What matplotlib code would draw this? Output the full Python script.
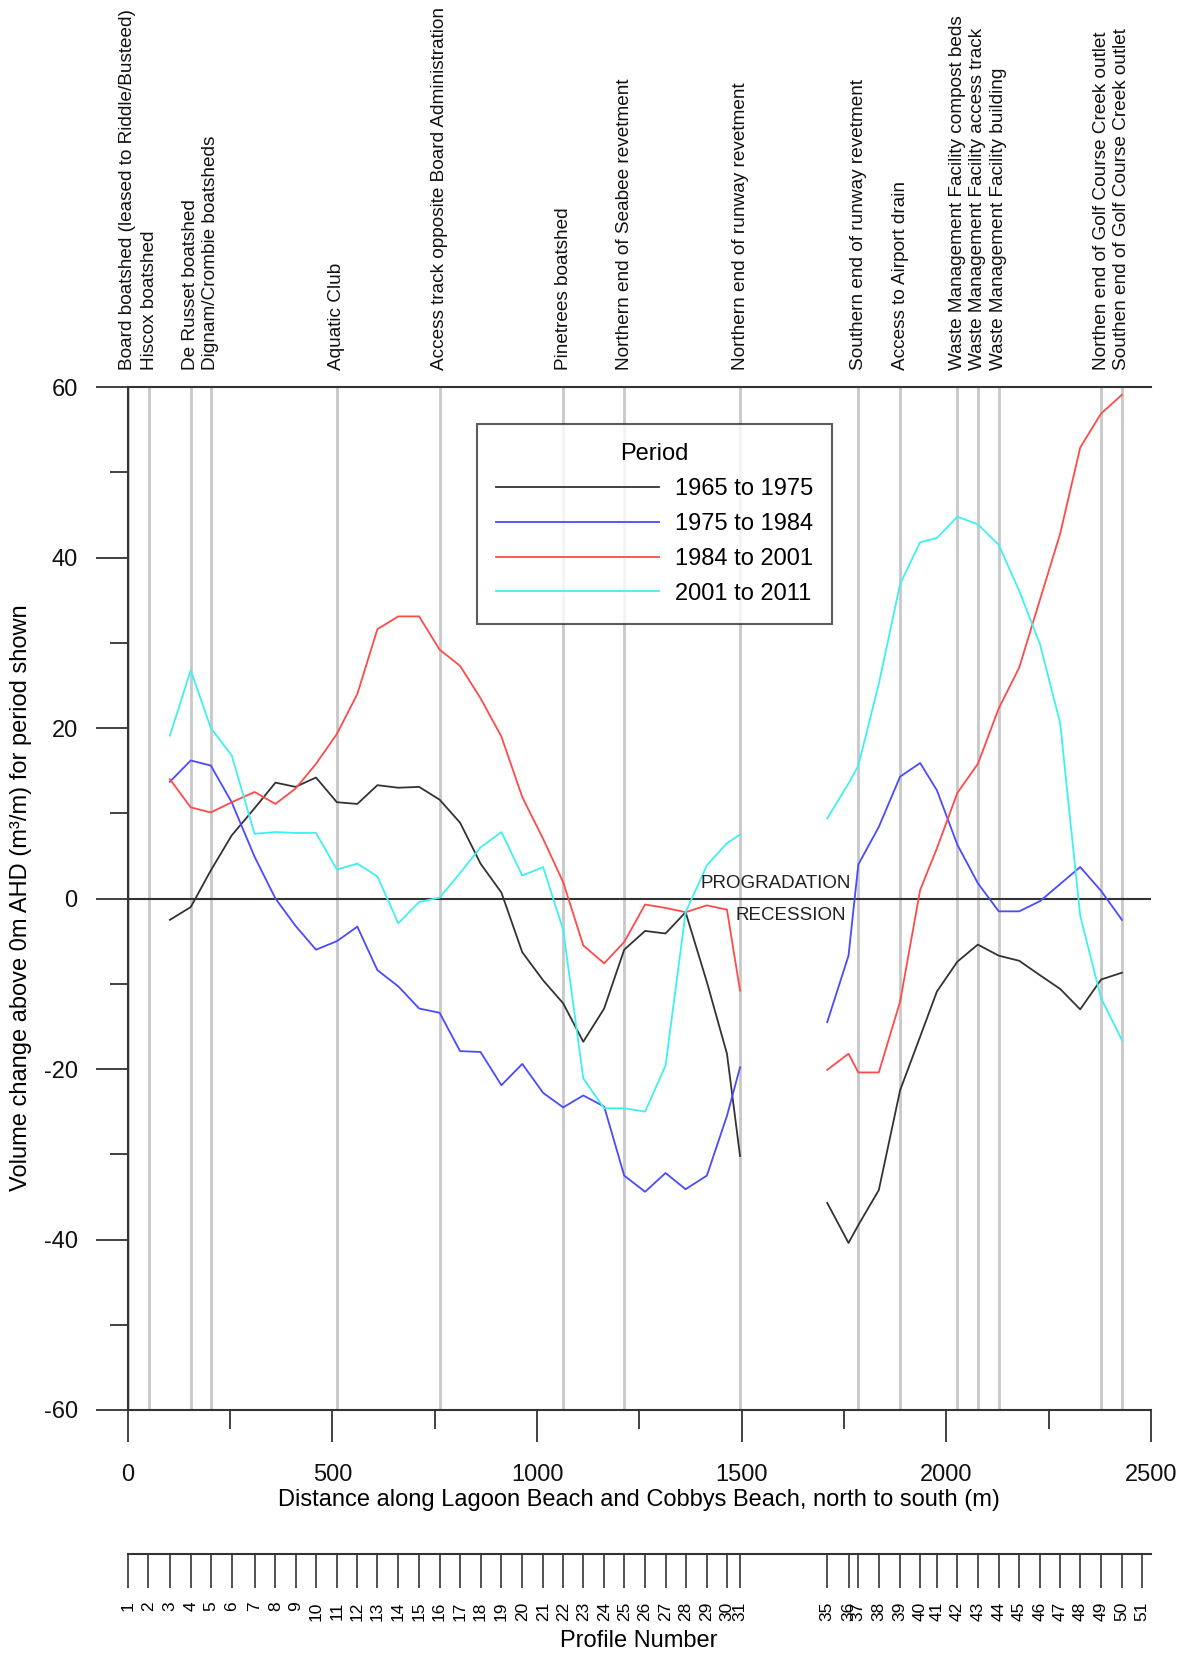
import matplotlib
matplotlib.use("Agg")
import matplotlib.pyplot as plt
from matplotlib.ticker import MultipleLocator

plt.rcParams["font.family"] = ["Liberation Sans", "DejaVu Sans"]
plt.rcParams["axes.unicode_minus"] = False

# chainage (m) of profiles with data, north part (profiles 3-31)
# and south part (profiles 35-50)
dist_north = [103, 154, 203, 254, 310, 361, 410, 460, 511, 561, 610, 661, 712,
              762, 812, 862, 913, 964, 1015, 1064, 1113, 1164, 1213, 1264,
              1314, 1363, 1415, 1464, 1496]
dist_south = [1709, 1761, 1785, 1835, 1887, 1936, 1977, 2027, 2077, 2128,
              2178, 2229, 2278, 2327, 2378, 2429]

# volume change (m3/m) per period
v6575_n = [-2.5, -1.0, 3.3, 7.4, 10.6, 13.6, 13.1, 14.2, 11.3, 11.1, 13.3,
           13.0, 13.1, 11.6, 8.9, 4.1, 0.7, -6.3, -9.6, -12.3, -16.8, -12.9,
           -6.0, -3.8, -4.1, -1.6, -9.8, -18.2, -30.2]
v6575_s = [-35.7, -40.4, -38.3, -34.2, -22.5, -16.2, -10.9, -7.4, -5.4, -6.7,
           -7.3, -9.0, -10.6, -13.0, -9.5, -8.7]
v7584_n = [13.7, 16.2, 15.6, 11.3, 4.9, 0.0, -3.2, -6.0, -5.0, -3.3, -8.4,
           -10.3, -12.9, -13.4, -17.9, -18.0, -21.9, -19.4, -22.8, -24.5,
           -23.1, -24.4, -32.5, -34.4, -32.2, -34.1, -32.5, -25.5, -19.8]
v7584_s = [-14.5, -6.7, 4.0, 8.4, 14.3, 15.9, 12.7, 6.3, 1.8, -1.5, -1.5,
           -0.3, 1.7, 3.7, 0.9, -2.5]
v8401_n = [14.0, 10.7, 10.1, 11.3, 12.5, 11.1, 12.9, 15.8, 19.3, 24.0, 31.6,
           33.1, 33.1, 29.2, 27.3, 23.5, 19.0, 11.9, 7.0, 1.9, -5.5, -7.6,
           -5.1, -0.7, -1.1, -1.6, -0.8, -1.3, -10.8]
v8401_s = [-20.1, -18.2, -20.4, -20.4, -12.1, 1.0, 5.9, 12.4, 15.8, 22.3,
           27.1, 35.1, 42.8, 52.9, 56.9, 59.1]
v0111_n = [19.1, 26.8, 20.0, 16.8, 7.6, 7.8, 7.7, 7.7, 3.4, 4.1, 2.6, -2.9,
           -0.4, 0.1, 3.0, 6.0, 7.8, 2.7, 3.7, -3.7, -21.1, -24.6, -24.6,
           -25.0, -19.6, -1.6, 3.9, 6.5, 7.5]
v0111_s = [9.4, 13.5, 15.6, 25.2, 36.9, 41.8, 42.3, 44.8, 43.9, 41.5, 36.1,
           29.8, 20.6, -2.0, -11.7, -16.6]

periods = ["1965 to 1975", "1975 to 1984", "1984 to 2001", "2001 to 2011"]
colors = ["#333333", "#4a4aff", "#ff4a4a", "#40f0f0"]

# landmarks along the beach
landmark_dist = [0, 53, 154, 203, 511, 762, 1064, 1213, 1496, 1785, 1887,
                 2027, 2077, 2128, 2378, 2429]
landmark_names = [
    "Board boatshed (leased to Riddle/Busteed)",
    "Hiscox boatshed",
    "De Russet boatshed",
    "Dignam/Crombie boatsheds",
    "Aquatic Club",
    "Access track opposite Board Administration",
    "Pinetrees boatshed",
    "Northern end of Seabee revetment",
    "Northern end of runway revetment",
    "Southern end of runway revetment",
    "Access to Airport drain",
    "Waste Management Facility compost beds",
    "Waste Management Facility access track",
    "Waste Management Facility building",
    "Northen end of Golf Course Creek outlet",
    "Southen end of Golf Course Creek outlet",
]

# profile numbers and their chainage (m)
profile_num = list(range(1, 32)) + list(range(35, 52))
profile_dist = [0, 50] + dist_north + dist_south + [2478]

W, H = 1186, 1655
fig = plt.figure(figsize=(W / 100, H / 100), dpi=100)
axc = "#333333"

L, R, T, B = 127.7, 1151, 387.1, 1410
ax = fig.add_axes([L / W, 1 - B / H, (R - L) / W, (B - T) / H])
ax.set_xlim(0, 2500)
ax.set_ylim(-60, 60)

for d in landmark_dist:
    ax.axvline(d, color="#c8c8c8", lw=2, zorder=1)
for d, name in zip(landmark_dist, landmark_names):
    ax.text(d, 62, name, rotation=90, ha="center", va="bottom",
            fontsize=13.7, color="#111111", clip_on=False)

ax.axhline(0, color=axc, lw=1.5, zorder=2)

series = [(v6575_n, v6575_s), (v7584_n, v7584_s), (v8401_n, v8401_s),
          (v0111_n, v0111_s)]
for (vn, vs), lab, c in zip(series, periods, colors):
    ax.plot(dist_north, vn, color=c, lw=1.3, label=lab, zorder=3)
    ax.plot(dist_south, vs, color=c, lw=1.3, zorder=3)

ax.text(1400, 1.8, "PROGRADATION", ha="left", va="center", fontsize=13.5,
        color="#222222")
ax.text(1485, -2.0, "RECESSION", ha="left", va="center", fontsize=13.5,
        color="#222222")

ax.spines["right"].set_visible(False)
for s in ["left", "top", "bottom"]:
    ax.spines[s].set_color(axc)
    ax.spines[s].set_linewidth(1.5)

ax.xaxis.set_major_locator(MultipleLocator(500))
ax.xaxis.set_minor_locator(MultipleLocator(250))
ax.yaxis.set_major_locator(MultipleLocator(20))
ax.yaxis.set_minor_locator(MultipleLocator(10))
ax.tick_params(axis="both", which="both", color=axc, width=1.3,
               labelsize=17, labelcolor="#111111")
ax.tick_params(axis="y", which="major", length=23, pad=13)
ax.tick_params(axis="y", which="minor", length=13)
ax.tick_params(axis="x", which="major", length=23, pad=16)
ax.tick_params(axis="x", which="minor", length=14)

leg = ax.legend(title="Period", loc="upper left",
                bbox_to_anchor=(0.3413, 0.964), fontsize=17,
                title_fontsize=17, frameon=True, fancybox=False,
                edgecolor="#333333", handlelength=6.9, handletextpad=0.7,
                labelspacing=0.55, borderpad=0.8, borderaxespad=0)
leg.get_frame().set_linewidth(1.5)

fig.text(21 / W, 1 - 898 / H,
         "Volume change above 0m AHD (m\u00b3/m) for period shown",
         rotation=90, ha="center", va="center", fontsize=17)
fig.text(638.5 / W, 1 - 1500 / H,
         "Distance along Lagoon Beach and Cobbys Beach, north to south (m)",
         ha="center", va="center", fontsize=17)

# profile number axis
py = 1554
pax = fig.add_axes([L / W, 1 - (py + 10) / H, (R - L) / W, 10 / H])
pax.set_xlim(0, 2500)
pax.patch.set_visible(False)
for s in ["left", "right", "bottom"]:
    pax.spines[s].set_visible(False)
pax.spines["top"].set_color(axc)
pax.spines["top"].set_linewidth(1.5)
pax.xaxis.set_ticks_position("top")
pax.set_xticks(profile_dist)
pax.set_xticklabels([str(p) for p in profile_num])
pax.tick_params(axis="x", direction="in", length=24.5, width=1.2, color=axc,
                labeltop=False, labelbottom=True, labelrotation=90,
                labelsize=12.5, pad=27)
pax.set_yticks([])
fig.text(638.5 / W, 1 - 1641 / H, "Profile Number", ha="center",
         va="center", fontsize=17)

fig.savefig("out.png", dpi=100)
